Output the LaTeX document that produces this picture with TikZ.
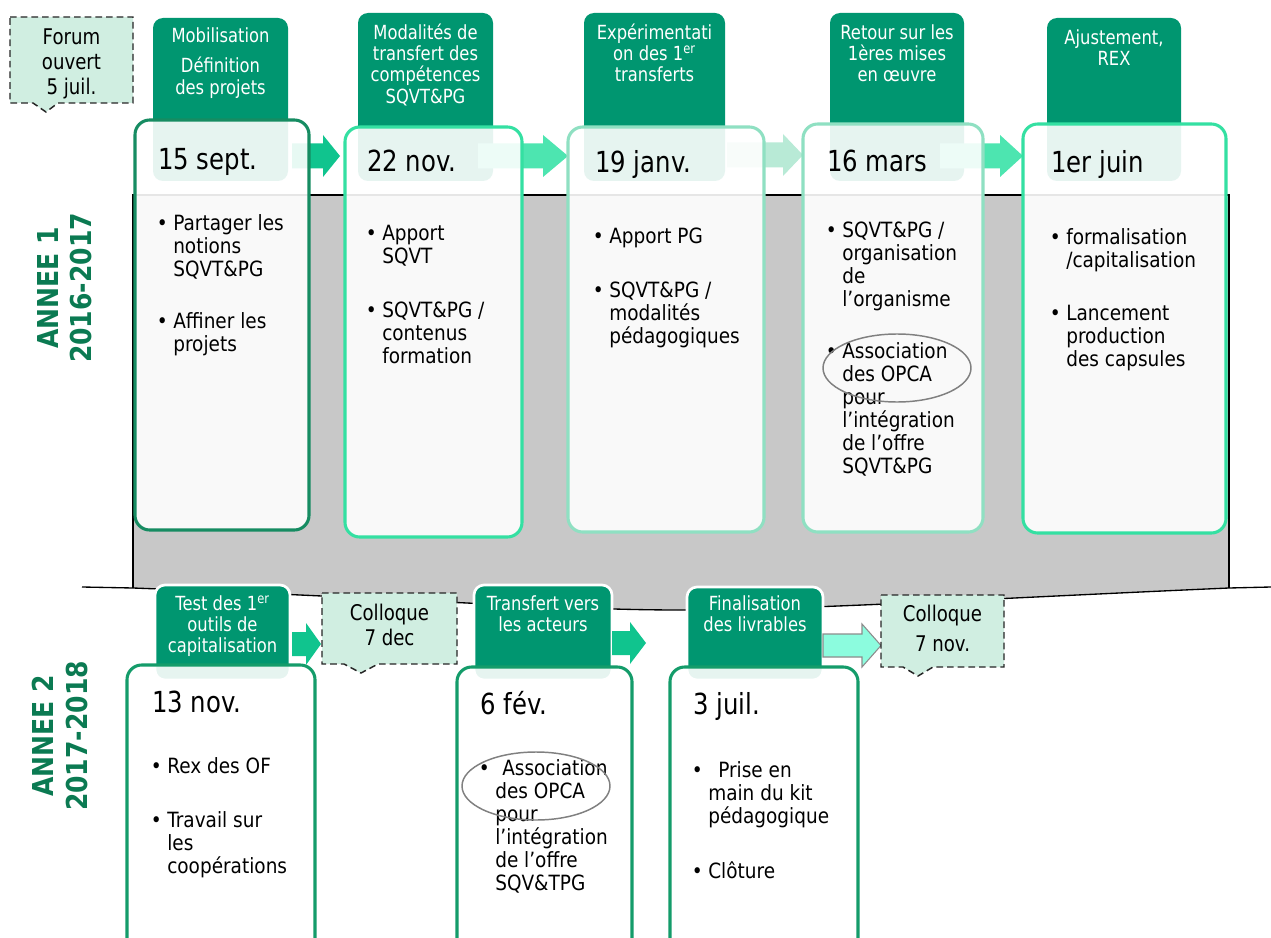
\documentclass[tikz,border=0pt]{standalone}
\usepackage{fontspec}
\setmainfont[FakeStretch=0.84]{DejaVu Sans}
\newfontfamily\bodyfam[FakeStretch=0.88]{DejaVu Sans}
\newfontfamily\lblfont[FakeStretch=0.87]{DejaVu Sans}
\definecolor{tabgreen}{RGB}{0,150,112}
\definecolor{cardA}{RGB}{22,140,98}
\definecolor{cardB}{RGB}{52,224,162}
\definecolor{cardC}{RGB}{143,224,194}
\definecolor{cardD}{RGB}{20,156,106}
\definecolor{arrA}{RGB}{16,196,142}
\definecolor{arrB}{RGB}{77,229,176}
\definecolor{arrC}{RGB}{184,234,214}
\definecolor{arrD}{RGB}{140,252,222}
\definecolor{mintfill}{RGB}{208,238,225}
\definecolor{lblgreen}{RGB}{11,122,82}
\definecolor{bandgrey}{RGB}{200,200,200}
\newcommand\fbody{\bodyfam\fontsize{15.75}{17.25}\selectfont}
\newcommand\fhead{\fontsize{14.6}{16}\selectfont}
\newcommand\fdate{\fontsize{21.75}{26}\selectfont}
\newcommand\fcall{\fontsize{16.2}{18.75}\selectfont}
\newcommand\tp{\rule{0pt}{1em}}
\newcommand\bul{\llap{•\hspace{4.2pt}}}
\newcommand\barrow[8]{\fill[#1,#8] (#2,{#5-#6}) -- (#3,{#5-#6}) -- (#3,{#5-#7}) -- (#4,#5) -- (#3,{#5+#7}) -- (#3,{#5+#6}) -- (#2,{#5+#6}) -- cycle;}
\tikzset{
  tabbox/.style={fill=tabgreen, rounded corners=7.5pt},
  tabboxw/.style={fill=tabgreen, draw=white, line width=2pt, rounded corners=7.5pt},
  cardbox/.style={fill=white, fill opacity=0.9, line width=2.3pt, rounded corners=11pt},
  callout/.style={fill=mintfill, draw=black!85, line width=1.1pt, dash pattern=on 5pt off 3pt},
  body/.style={font=\fbody, align=left, anchor=north west, inner sep=0pt, text=black},
  head/.style={font=\fhead, align=center, anchor=north, inner sep=0pt, text=white},
  datetxt/.style={font=\fdate, anchor=base west, inner sep=0pt, text=black},
  calltxt/.style={font=\fcall, align=center, anchor=north, inner sep=0pt, text=black},
  yearlbl/.style={font=\lblfont\bfseries\fontsize{21.6}{25.1}\selectfont, align=center, rotate=90, text=lblgreen, inner sep=0pt},
  ring/.style={draw=black!50, line width=1.1pt},
}
\begin{document}
\begin{tikzpicture}[x=0.75pt,y=-0.75pt]
\useasboundingbox (0,0) rectangle (1271,938);
\clip (0,0) rectangle (1271,938);
\fill[white] (0,0) rectangle (1271,938);
% grey band
\fill[bandgrey] (133,195) -- (1229,195) -- (1229,588) .. controls (1000,598) and (800,610) .. (680,610) .. controls (560,610) and (400,598) .. (133,588) -- cycle;
\draw[black, line width=1pt] (133,588) -- (133,195) -- (1229,195) -- (1229,588);
\draw[black, line width=1pt] (82,587) -- (133,588) .. controls (400,598) and (560,610) .. (680,610) .. controls (800,610) and (1000,598) .. (1229,588) -- (1271,587);
% tabs row 1
\fill[tabbox] (153,18) rectangle (288,181);
\fill[tabbox] (358,13) rectangle (493,181);
\fill[tabbox] (584,13) rectangle (725,181);
\fill[tabbox] (830,13) rectangle (964,181);
\fill[tabbox] (1047,18) rectangle (1181,181);
% tabs row 2
\filldraw[tabboxw] (155,585) rectangle (290,680);
\filldraw[tabboxw] (474,585) rectangle (612,680);
\filldraw[tabboxw] (687,587) rectangle (823,680);
% arrows
\barrow{arrA}{292}{323}{340}{156}{12.5}{21}{}
\barrow{arrB}{478}{543}{568}{156}{12.5}{21}{}
\barrow{arrC}{727}{783}{803}{155}{12.5}{21}{}
\barrow{arrB}{940}{1000}{1023}{156}{12.5}{21}{}
\barrow{arrA}{292}{306}{321}{644}{12}{21}{}
\barrow{arrA}{612}{630}{646}{643}{12}{21}{}
\barrow{arrD}{823}{862}{881}{645.5}{11.5}{21.5}{draw=black!45, line width=0.8pt}
% cards row 1
\draw[cardbox, draw=cardA] (135,120) rectangle (309,530);
\draw[cardbox, draw=cardB] (345,127) rectangle (522,537);
\draw[cardbox, draw=cardC] (568,127) rectangle (764,532);
\draw[cardbox, draw=cardC] (803,124) rectangle (983,532);
\draw[cardbox, draw=cardB] (1023,124) rectangle (1226,533);
% cards row 2
\draw[cardbox, draw=cardD] (127,665) rectangle (315,955);
\draw[cardbox, draw=cardD] (457,667) rectangle (632,955);
\draw[cardbox, draw=cardD] (670,667) rectangle (858,955);
% callouts
\draw[callout] (10,17) -- (133,17) -- (133,103) -- (58,103) -- (46,112) -- (33,103) -- (10,103) -- cycle;
\draw[callout] (322,593) -- (457,593) -- (457,664) -- (378,664) -- (361,673) -- (344,664) -- (322,664) -- cycle;
\draw[callout] (881,595) -- (1004,595) -- (1004,667) -- (933,667) -- (918,676) -- (903,667) -- (881,667) -- cycle;
% callout texts
\node[calltxt] (forum) at (71.5,22.4) {\tp Forum\\ouvert\\5 juil.};
\node[calltxt] (coll1) at (389.5,598.4) {\tp Colloque\\7 dec};
\node[calltxt] (coll2) at (942.5,599.4) {\tp Colloque\\[4pt]7 nov.};
% year labels
\node[yearlbl] (y1) at (64.5,288) {ANNEE 1\\2016-2017};
\node[yearlbl] (y2) at (60,736) {ANNEE 2\\2017-2018};
% tab headings
\node[head] (h1) at (220.5,23) {\tp Mobilisation\\[6.5pt]Définition\\des projets};
\node[head] (h2) at (425.5,19.5) {\tp Modalités de\\transfert des\\compétences\\SQVT\&PG};
\node[head] (h3) at (654.5,19.5) {\tp Expérimentati\\on des 1\textsuperscript{er}\\transferts};
\node[head] (h4) at (897,19.5) {\tp Retour sur les\\1ères mises\\en œuvre};
\node[head] (h5) at (1114,24.5) {\tp Ajustement,\\REX};
\node[head] (h6) at (222.5,590.5) {\tp Test des 1\textsuperscript{er}\\outils de\\capitalisation};
\node[head] (h7) at (543,590.5) {\tp Transfert vers\\les acteurs};
\node[head] (h8) at (755,590.5) {\tp Finalisation\\des livrables};
% dates
\node[datetxt] (d1) at (158,170) {15 sept.};
\node[datetxt] (d2) at (367,172) {22 nov.};
\node[datetxt] (d3) at (595,173) {19 janv.};
\node[datetxt] (d4) at (827,172) {16 mars};
\node[datetxt] (d5) at (1051,173) {1er juin};
\node[datetxt] (d6) at (152,712) {13 nov.};
\node[datetxt] (d7) at (480,714) {6 fév.};
\node[datetxt] (d8) at (693,714) {3 juil.};
% bullets row 1
\node[body] (b1a) at (173,209) {\tp\bul Partager les\\notions\\SQVT\&PG};
\node[body] (b1b) at (173,307) {\tp\bul Affiner les\\projets};
\node[body] (b2a) at (382,219) {\tp\bul Apport\\SQVT};
\node[body] (b2b) at (382,296) {\tp\bul SQVT\&PG /\\contenus\\formation};
\node[body] (b3a) at (609,222) {\tp\bul Apport PG};
\node[body] (b3b) at (609,276) {\tp\bul SQVT\&PG /\\modalités\\pédagogiques};
\node[body] (b4a) at (842,216) {\tp\bul SQVT\&PG /\\organisation\\de\\l’organisme};
\node[body] (b4b) at (842,337) {\tp\bul Association\\des OPCA\\pour\\l’intégration\\de l’offre\\SQVT\&PG};
\node[body] (b5a) at (1066,223) {\tp\bul formalisation\\/capitalisation};
\node[body] (b5b) at (1066,299) {\tp\bul Lancement\\production\\des capsules};
% bullets row 2
\node[body] (c1a) at (167,752) {\tp\bul Rex des OF};
\node[body] (c1b) at (167,806) {\tp\bul Travail sur\\les\\coopérations};
\node[body] (c2a) at (495,754) {\tp\bul\hspace{5.25pt}Association\\des OPCA\\pour\\l’intégration\\de l’offre\\SQV\&TPG};
\node[body] (c3a) at (708,756) {\tp\bul\hspace{7.5pt}Prise en\\main du kit\\pédagogique};
\node[body] (c3b) at (708,857) {\tp\bul Clôture};
% rings
\draw[ring] (897,368) ellipse [x radius=74, y radius=34];
\draw[ring] (536,786) ellipse [x radius=74, y radius=34];
\end{tikzpicture}
\end{document}
